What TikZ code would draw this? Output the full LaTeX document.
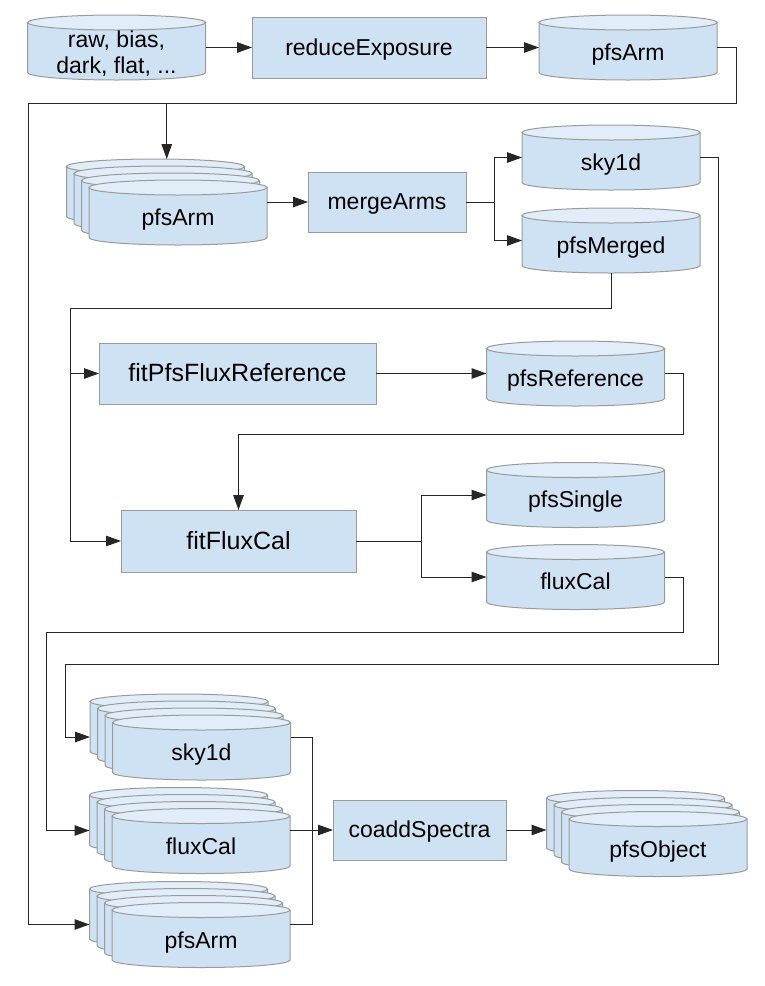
\documentclass[tikz,border=0pt]{standalone}
\usepackage{fontspec}
\setmainfont{Liberation Sans}
\usetikzlibrary{arrows.meta,fit}

\definecolor{bodyblue}{HTML}{CFE2F3}
\definecolor{topblue}{HTML}{E1EEF9}
\definecolor{rimgray}{HTML}{9A9A9A}
\definecolor{wire}{HTML}{262626}

\tikzset{
  x=1pt, y=1pt,
  rim/.style={draw=rimgray, line width=1pt},
  procbox/.style={draw=rimgray, line width=1pt, fill=bodyblue, inner sep=0pt, outer sep=0pt,
                  font=\fontsize{23}{26}\selectfont, text=black, text height=15pt, text depth=0pt},
  bigproc/.style={procbox, font=\fontsize{25}{30}\selectfont, text height=16pt},
  wireline/.style={draw=wire, line width=1pt},
  flow/.style={wireline, -{Triangle[length=15pt,width=10.5pt]}},
  drumlabel/.style={font=\fontsize{23}{26}\selectfont, align=center, inner sep=0pt, text=black, anchor=base},
  anchorbox/.style={inner sep=0pt, outer sep=0pt, draw=none},
}

% one database cylinder, 178 wide and 65 high, centred at (#1,#2)
\newcommand{\drumbody}[2]{%
  \begin{scope}[shift={(#1,#2)}]
    \fill[bodyblue] (-89,25) -- (-89,-25)
      arc[start angle=180,end angle=360,x radius=89,y radius=7.5] -- (89,25) -- cycle;
    \draw[rim] (-89,25) -- (-89,-25)
      arc[start angle=180,end angle=360,x radius=89,y radius=7.5] -- (89,25);
    \draw[rim, fill=topblue] (0,25) ellipse[x radius=89,y radius=7.5];
  \end{scope}}

% named single cylinder: name, x, y, label (baseline 12.5 below centre)
\newcommand{\drum}[4]{%
  \drumbody{#2}{#3}
  \node[anchorbox, minimum width=178pt, minimum height=65pt] (#1) at (#2,#3) {};
  \node[drumlabel] at (#2,#3-12.5) {#4};}

% named stack of four cylinders: name, front x, front y, label
\newcommand{\drumstack}[4]{%
  \foreach \k in {3,2,1,0} {\drumbody{#2-7.5*\k}{#3+7*\k}}
  \coordinate (#1-nw) at (#2-22.5-89,#3+21+32.5);
  \coordinate (#1-se) at (#2+89,#3-32.5);
  \node[anchorbox, fit=(#1-nw)(#1-se)] (#1) {};
  \node[drumlabel] at (#2,#3-13) {#4};}

\begin{document}
\begin{tikzpicture}
\useasboundingbox (0,0) rectangle (764,-986);

% ---- data products and processing steps
\drumbody{116.5}{-47.5}
\node[anchorbox, minimum width=178pt, minimum height=65pt] (raw) at (116.5,-47.5) {};
\node[drumlabel] at (116.5,-73) {raw, bias,\\dark, flat, ...};
\node[procbox, minimum width=234pt, minimum height=61pt] (reduce) at (369,-47.5) {reduceExposure};
\drum{armA}{628}{-47.5}{pfsArm}

\drumstack{armB}{178}{-212.5}{pfsArm}
\node[procbox, minimum width=158pt, minimum height=60pt] (merge) at (387,-202) {mergeArms};
\drum{skyA}{611}{-157.5}{sky1d}
\drum{merged}{611}{-240.5}{pfsMerged}

\node[bigproc, minimum width=277pt, minimum height=61pt] (fitref) at (237.5,-373.5) {fitPfsFluxReference};
\drum{pfsref}{575.5}{-373.5}{pfsReference}

\node[bigproc, minimum width=235pt, minimum height=62pt] (fitflux) at (238.5,-541) {fitFluxCal};
\drum{single}{575.5}{-495}{pfsSingle}
\drum{fluxA}{575.5}{-577}{fluxCal}

\drumstack{skyB}{201.5}{-747.5}{sky1d}
\drumstack{fluxB}{201}{-841}{fluxCal}
\drumstack{armC}{201}{-935}{pfsArm}
\node[procbox, minimum width=173pt, minimum height=60pt] (coadd) at (419.5,-830) {coaddSpectra};
\drumstack{object}{658}{-844}{pfsObject}

% ---- routing points
\coordinate (topbusR) at (736,-103);
\coordinate (topbusL) at (28,-103);
\coordinate (split1) at (494,-202);
\coordinate (skybusR) at (718,-664);
\coordinate (skybusL) at (65,-664);
\coordinate (mbusL) at (70,-308);
\coordinate (refbus) at (683,-434);
\coordinate (split2) at (421,-541);
\coordinate (fluxbusR) at (683,-632);
\coordinate (fluxbusL) at (46,-632);
\coordinate (joinbus) at (312,-830);

% ---- connectors
\draw[flow] (raw.east) -- (reduce.west);
\draw[flow] (reduce.east) -- (armA.west);
\draw[flow] (armA.east) -| (topbusR) -- (topbusL) |- (armC.west);
\draw[flow] (armB.north |- topbusL) -- (armB.north);
\draw[flow] (armB.east |- merge.west) -- (merge.west);

\draw[wireline] (merge.east) -- (split1);
\draw[flow] (split1) |- (skyA.west);
\draw[flow] (split1) |- (merged.west);

\draw[flow] (skyA.east) -| (skybusR) -- (skybusL) |- (skyB.west);

\draw[flow] (merged.south) |- (mbusL) |- (fitflux.west);
\draw[flow] (mbusL |- fitref.west) -- (fitref.west);
\draw[flow] (fitref.east) -- (pfsref.west);
\draw[flow] (pfsref.east) -| (refbus) -| (fitflux.north);

\draw[wireline] (fitflux.east) -- (split2);
\draw[flow] (split2) |- (single.west);
\draw[flow] (split2) |- (fluxA.west);

\draw[flow] (fluxA.east) -| (fluxbusR) -- (fluxbusL) |- (fluxB.west);

\draw[wireline] (skyB.east) -| (joinbus);
\draw[wireline] (armC.east) -| (joinbus);
\draw[flow] (fluxB.east |- coadd.west) -- (coadd.west);
\draw[flow] (coadd.east) -- (coadd.east -| object.west);
\end{tikzpicture}
\end{document}
